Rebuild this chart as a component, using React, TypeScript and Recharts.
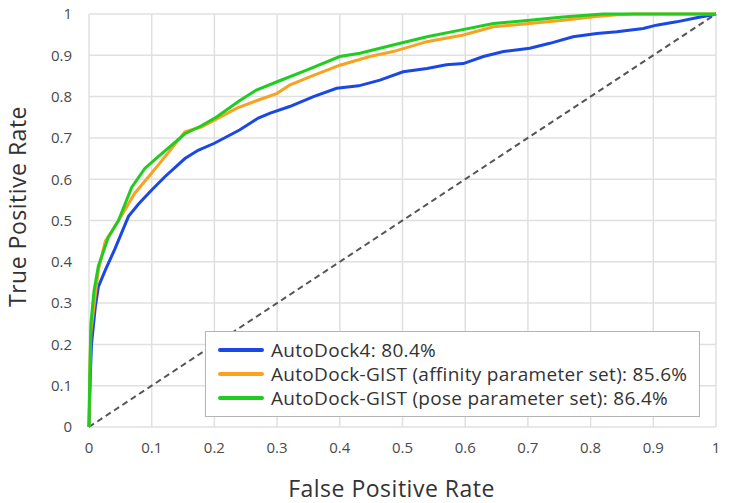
import { LineChart, Line, XAxis, YAxis, CartesianGrid, Legend } from "recharts";

// ROC curves (false positive rate / true positive rate)
const ad4Fpr = [0, 0.002, 0.004, 0.01, 0.015, 0.026, 0.041, 0.052, 0.063, 0.079, 0.1, 0.121, 0.153, 0.174, 0.2, 0.24, 0.27, 0.289, 0.32, 0.358, 0.395, 0.43, 0.464, 0.501, 0.539, 0.57, 0.597, 0.629, 0.661, 0.703, 0.735, 0.772, 0.81, 0.842, 0.884, 0.905, 0.937, 0.969, 0.995, 1];
const ad4Tpr = [0, 0.12, 0.2, 0.29, 0.34, 0.38, 0.43, 0.47, 0.51, 0.54, 0.574, 0.606, 0.65, 0.67, 0.687, 0.719, 0.748, 0.76, 0.776, 0.8, 0.82, 0.826, 0.84, 0.86, 0.868, 0.877, 0.88, 0.897, 0.909, 0.917, 0.929, 0.945, 0.953, 0.957, 0.965, 0.973, 0.981, 0.991, 0.998, 1];

const affinityFpr = [0, 0.001, 0.003, 0.01, 0.015, 0.026, 0.041, 0.057, 0.073, 0.1, 0.121, 0.153, 0.18, 0.2, 0.236, 0.267, 0.3, 0.32, 0.352, 0.4, 0.448, 0.485, 0.539, 0.597, 0.645, 0.703, 0.756, 0.81, 0.842, 0.87, 1];
const affinityTpr = [0, 0.12, 0.23, 0.32, 0.38, 0.45, 0.485, 0.525, 0.566, 0.615, 0.654, 0.715, 0.727, 0.743, 0.772, 0.79, 0.808, 0.828, 0.848, 0.876, 0.897, 0.909, 0.933, 0.949, 0.969, 0.977, 0.985, 0.994, 0.998, 1, 1];

const poseFpr = [0, 0.001, 0.003, 0.008, 0.015, 0.031, 0.047, 0.068, 0.089, 0.11, 0.153, 0.18, 0.204, 0.24, 0.267, 0.3, 0.347, 0.4, 0.432, 0.485, 0.539, 0.592, 0.645, 0.703, 0.756, 0.82, 1];
const poseTpr = [0, 0.1, 0.25, 0.33, 0.39, 0.46, 0.5, 0.58, 0.626, 0.654, 0.71, 0.73, 0.751, 0.79, 0.816, 0.836, 0.864, 0.897, 0.905, 0.925, 0.945, 0.961, 0.977, 0.985, 0.993, 1, 1];

const chanceFpr = [0, 1];
const chanceTpr = [0, 1];

const ticks = [0, 0.1, 0.2, 0.3, 0.4, 0.5, 0.6, 0.7, 0.8, 0.9, 1];

const seriesNames = [
  "AutoDock4: 80.4%",
  "AutoDock-GIST (affinity parameter set): 85.6%",
  "AutoDock-GIST (pose parameter set): 86.4%",
];
const seriesColors = ["#1a48e6", "#f8a21f", "#20cc20"];

const toPoints = (fpr: number[], tpr: number[]) => fpr.map((x, i) => ({ fpr: x, tpr: tpr[i] }));

const series = [
  toPoints(ad4Fpr, ad4Tpr),
  toPoints(affinityFpr, affinityTpr),
  toPoints(poseFpr, poseTpr),
];

const FONT = "'Open Sans', sans-serif";
const tickStyle = { fill: "#4a4a4a", fontSize: 15, fontFamily: FONT };

const fmt = (v: number) => (v === 0 || v === 1 ? String(v) : v.toFixed(1));

const LegendBox = () => (
  <div
    style={{
      boxSizing: "border-box",
      width: "100%",
      height: "100%",
      background: "#fff",
      border: "1px solid #b4b4b4",
      padding: "6px 0 0 12px",
      fontFamily: FONT,
      fontSize: 19,
      letterSpacing: 0.3,
      color: "#333",
    }}
  >
    {seriesNames.map((name, i) => (
      <div key={name} style={{ display: "flex", alignItems: "center", height: 24, whiteSpace: "nowrap" }}>
        <div style={{ width: 46, height: 4, background: seriesColors[i], borderRadius: 2, marginRight: 7 }} />
        <span>{name}</span>
      </div>
    ))}
  </div>
);

export default function App() {
  return (
    <div style={{ position: "absolute", left: 0, top: 0, width: 729, height: 503, background: "#fff" }}>
      <LineChart width={729} height={503} margin={{ top: 14, right: 13, left: 0, bottom: 0 }}>
        <CartesianGrid stroke="#e0e0e0" strokeWidth={1.5} horizontalValues={ticks} verticalValues={ticks} />
        <XAxis
          type="number"
          dataKey="fpr"
          domain={[0, 1]}
          ticks={ticks}
          tickFormatter={fmt}
          axisLine={false}
          tickLine={false}
          tickMargin={9}
          height={76}
          tick={tickStyle}
          label={{
            content: (p: any) => (
              <text
                x={p.viewBox.x + p.viewBox.width / 2 - 11}
                y={p.viewBox.y + 61}
                textAnchor="middle"
                dominantBaseline="central"
                fill="#333"
                fontSize={23}
                letterSpacing={0.5}
                fontFamily={FONT}
              >
                False Positive Rate
              </text>
            ),
          }}
        />
        <YAxis
          type="number"
          dataKey="tpr"
          domain={[0, 1]}
          ticks={ticks}
          tickFormatter={fmt}
          axisLine={false}
          tickLine={false}
          tickMargin={11}
          width={89}
          tick={tickStyle}
          label={{
            content: (p: any) => {
              const cx = p.viewBox.x + 17;
              const cy = p.viewBox.y + p.viewBox.height / 2 - 14;
              return (
                <text
                  x={cx}
                  y={cy}
                  transform={`rotate(-90 ${cx} ${cy})`}
                  textAnchor="middle"
                  dominantBaseline="central"
                  fill="#333"
                  fontSize={23}
                  letterSpacing={0.5}
                  fontFamily={FONT}
                >
                  True Positive Rate
                </text>
              );
            },
          }}
        />
        <Line
          data={toPoints(chanceFpr, chanceTpr)}
          dataKey="tpr"
          stroke="#555"
          strokeWidth={2}
          strokeDasharray="6 4"
          dot={false}
          legendType="none"
          isAnimationActive={false}
        />
        {series.map((pts, i) => (
          <Line
            key={seriesNames[i]}
            data={pts}
            dataKey="tpr"
            name={seriesNames[i]}
            stroke={seriesColors[i]}
            strokeWidth={3}
            dot={false}
            type="linear"
            isAnimationActive={false}
          />
        ))}
        <Legend
          layout="vertical"
          align="center"
          verticalAlign="middle"
          content={() => <LegendBox />}
          wrapperStyle={{ left: 205, top: 331, width: 495, height: 86 }}
        />
      </LineChart>
    </div>
  );
}
